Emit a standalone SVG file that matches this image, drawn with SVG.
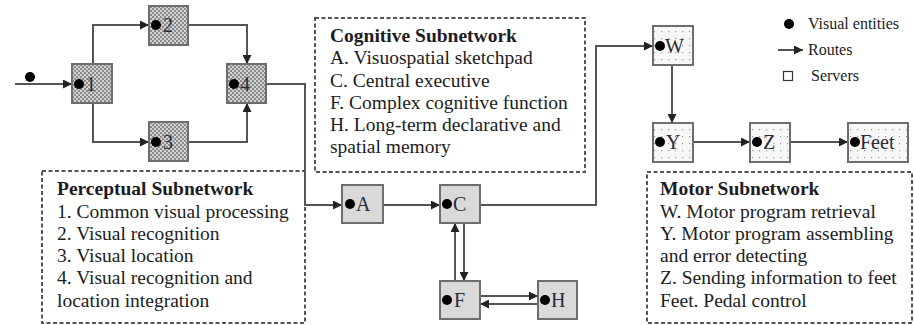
<svg xmlns="http://www.w3.org/2000/svg" width="914" height="325" viewBox="0 0 914 325">
<style>
.t{font-family:"Liberation Serif","Times New Roman",serif;font-size:19.5px;fill:#1c1c22}
.b{font-weight:bold}
.lg{font-family:"Liberation Serif","Times New Roman",serif;font-size:16px;fill:#1c1c22}
.nl{font-family:"Liberation Serif","Times New Roman",serif;font-size:20px;fill:#2a2a38}
.box{fill:none;stroke:#555;stroke-width:2;stroke-dasharray:4 2.5}
.n{stroke:#6e6e6e;stroke-width:2}
.p{fill:url(#hatch)}
.c{fill:#d9d9d9}
.m{fill:url(#dots)}
.e{stroke:#555;stroke-width:2;fill:none}
.dot{fill:#000}
</style>
<defs>
<pattern id="hatch" width="4" height="4" patternUnits="userSpaceOnUse">
<rect width="4" height="4" fill="#d2d2d2"/>
<rect width="2" height="2" fill="#8a8a8a"/>
<rect x="2" y="2" width="2" height="2" fill="#8a8a8a"/>
</pattern>
<pattern id="dots" width="7" height="7" patternUnits="userSpaceOnUse">
<rect width="7" height="7" fill="#f7f7f7"/>
<rect x="3" y="3" width="1.2" height="1.2" fill="#999"/>
</pattern>
<marker id="arr" viewBox="0 0 10 10" refX="10" refY="5" markerWidth="10" markerHeight="9" markerUnits="userSpaceOnUse" orient="auto">
<path d="M0,0 L10,5 L0,10 z" fill="#222"/>
</marker>
</defs>
<rect width="914" height="325" fill="#fff"/>

<g id="connectors">
<path class="e" d="M15,84 H72" marker-end="url(#arr)"/>
<path class="e" d="M93,64 V25 H149" marker-end="url(#arr)"/>
<path class="e" d="M188,25 H247 V64" marker-end="url(#arr)"/>
<path class="e" d="M93,103 V142 H149" marker-end="url(#arr)"/>
<path class="e" d="M188,142 H247 V103" marker-end="url(#arr)"/>
<path class="e" d="M266,84 H305 V205 H342" marker-end="url(#arr)"/>
<path class="e" d="M383,205 H440" marker-end="url(#arr)"/>
<path class="e" d="M480,205 H596 V46 H653" marker-end="url(#arr)"/>
<path class="e" d="M672,65 V123" marker-end="url(#arr)"/>
<path class="e" d="M693,142 H750" marker-end="url(#arr)"/>
<path class="e" d="M790,142 H848" marker-end="url(#arr)"/>
<path class="e" d="M455,281 V223" marker-end="url(#arr)"/>
<path class="e" d="M464,223 V281" marker-end="url(#arr)"/>
<path class="e" d="M480,296 H538" marker-end="url(#arr)"/>
<path class="e" d="M538,304 H480" marker-end="url(#arr)"/>
<circle class="dot" cx="30" cy="77" r="5"/>
</g>

<g id="perceptual-subnetwork">
<rect class="box" x="42" y="171" width="263" height="152"/>
<text class="t b" x="57" y="195">Perceptual Subnetwork</text>
<text class="t" x="57" y="218">1. Common visual processing</text>
<text class="t" x="57" y="240">2. Visual recognition</text>
<text class="t" x="57" y="262">3. Visual location</text>
<text class="t" x="57" y="284">4. Visual recognition and</text>
<text class="t" x="57" y="307">location integration</text>
</g>

<g id="cognitive-subnetwork">
<rect class="box" x="315" y="18" width="270" height="154"/>
<text class="t b" x="330" y="42">Cognitive Subnetwork</text>
<text class="t" x="330" y="64">A. Visuospatial sketchpad</text>
<text class="t" x="330" y="87">C. Central executive</text>
<text class="t" x="330" y="109">F. Complex cognitive function</text>
<text class="t" x="330" y="131">H. Long-term declarative and</text>
<text class="t" x="330" y="153">spatial memory</text>
</g>

<g id="motor-subnetwork">
<rect class="box" x="647" y="172" width="265" height="151"/>
<text class="t b" x="660" y="195">Motor Subnetwork</text>
<text class="t" x="660" y="218">W. Motor program retrieval</text>
<text class="t" x="660" y="240">Y. Motor program assembling</text>
<text class="t" x="660" y="262">and error detecting</text>
<text class="t" x="660" y="284">Z. Sending information to feet</text>
<text class="t" x="660" y="307">Feet. Pedal control</text>
</g>

<g id="legend">
<circle class="dot" cx="789" cy="24" r="5"/>
<text class="lg" x="808" y="29">Visual entities</text>
<path class="e" d="M778,50 H803" marker-end="url(#arr)"/>
<text class="lg" x="808" y="55">Routes</text>
<rect x="783.5" y="71.5" width="9" height="9" fill="#fff" stroke="#333" stroke-width="1.2"/>
<text class="lg" x="811" y="81">Servers</text>
</g>

<g id="node-1"><rect class="n p" x="72" y="64" width="40" height="39"/><circle class="dot" cx="79" cy="84" r="5"/><text class="nl" x="86" y="91">1</text></g>
<g id="node-2"><rect class="n p" x="149" y="6" width="39" height="39"/><circle class="dot" cx="156" cy="25" r="5"/><text class="nl" x="163" y="32">2</text></g>
<g id="node-3"><rect class="n p" x="149" y="122" width="39" height="39"/><circle class="dot" cx="156" cy="142" r="5"/><text class="nl" x="163" y="149">3</text></g>
<g id="node-4"><rect class="n p" x="227" y="64" width="39" height="39"/><circle class="dot" cx="234" cy="84" r="5"/><text class="nl" x="240" y="91">4</text></g>

<g id="node-A"><rect class="n c" x="342" y="185" width="41" height="38"/><circle class="dot" cx="350" cy="204" r="5"/><text class="nl" x="356" y="211">A</text></g>
<g id="node-C"><rect class="n c" x="440" y="185" width="40" height="38"/><circle class="dot" cx="447" cy="204" r="5"/><text class="nl" x="453" y="211">C</text></g>
<g id="node-F"><rect class="n c" x="440" y="281" width="40" height="38"/><circle class="dot" cx="447" cy="300" r="5"/><text class="nl" x="454" y="307">F</text></g>
<g id="node-H"><rect class="n c" x="538" y="281" width="39" height="38"/><circle class="dot" cx="545" cy="300" r="5"/><text class="nl" x="551" y="307">H</text></g>

<g id="node-W"><rect class="n m" x="653" y="26" width="40" height="39"/><circle class="dot" cx="660" cy="46" r="5"/><text class="nl" x="665" y="53">W</text></g>
<g id="node-Y"><rect class="n m" x="653" y="123" width="40" height="39"/><circle class="dot" cx="660" cy="142" r="5"/><text class="nl" x="666" y="149">Y</text></g>
<g id="node-Z"><rect class="n m" x="750" y="123" width="40" height="39"/><circle class="dot" cx="757" cy="142" r="5"/><text class="nl" x="763" y="149">Z</text></g>
<g id="node-Feet"><rect class="n m" x="848" y="123" width="60" height="39"/><circle class="dot" cx="855" cy="142" r="5"/><text class="nl" x="860" y="149">Feet</text></g>
</svg>
